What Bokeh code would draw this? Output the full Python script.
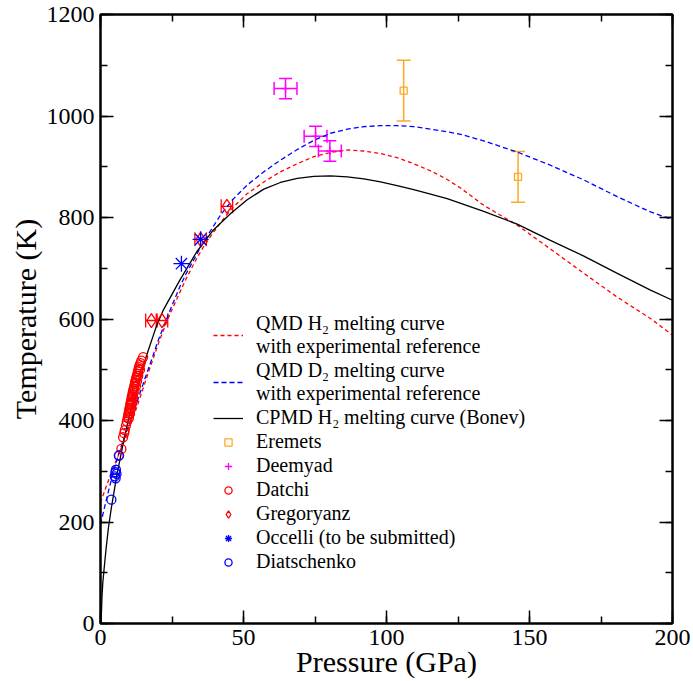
from bokeh.plotting import figure
from bokeh.models import (LinearAxis, SingleIntervalTicker, Whisker, TeeHead,
                          ColumnDataSource, Legend, LegendItem, Range1d, CustomJSTickFormatter)
from bokeh.embed import file_html
from bokeh.resources import INLINE

# ---------------- data ----------------
qmd_h2_p = [0, 2, 4, 6, 8, 10, 12, 14, 16, 18, 20, 22, 24, 27.7, 30, 33.6, 36, 39.4, 42, 45.5,
            51.3, 57.1, 62.9, 68.8, 74.6, 80.4, 86.3, 92.1, 97.9, 103.7, 109.5, 115.4, 121.2,
            125.9, 134, 145.7, 157.3, 169, 180.7, 192.3, 200]
qmd_h2_t = [238, 270, 300, 328, 356, 385, 415, 448, 482, 515, 548, 578, 606, 652, 680, 719, 742, 770, 790, 815,
            847, 870, 890, 906, 920, 928, 933, 931, 926, 918, 906, 892, 875,
            858, 824, 785, 738, 690, 643, 601, 568]

qmd_d2_p = [0, 2, 4, 6, 8, 10, 12, 14, 16, 18, 20, 24, 27.7, 30, 33.6, 36, 39.4, 42, 46,
            51.3, 57.1, 62.9, 68.8, 74.6, 80.4, 86.3, 92.1, 97.9, 103.7, 109.5, 115.4, 121.2,
            125.9, 134, 145.7, 157.3, 169, 180.7, 192.3, 200]
qmd_d2_t = [195, 243, 288, 328, 362, 393, 424, 457, 490, 522, 555, 613, 663, 690, 727, 752, 782, 805, 834,
            864, 890, 913, 934, 952, 966, 974, 979, 981, 981, 979, 974, 969,
            964, 951, 929, 903, 874, 841, 811, 796]

cpmd_p = [0.2, 0.5, 0.8, 1.3, 2.0, 2.8, 3.8, 5.6, 7.9, 10.2, 13.7, 16.1, 19.5, 22, 27.7, 33.6, 39.4,
          45.5, 51.3, 57.1, 62.9, 68.8, 74.6, 80.4, 86.3, 92.1, 97.9, 103.7, 109.5, 115.4, 121.2,
          134, 145.7, 157.3, 169, 180.7, 192.3, 200]
cpmd_t = [0, 50, 80, 110, 150, 190, 228, 289, 354, 413, 479, 528, 585, 618, 676, 732, 775,
          808, 835, 856, 869, 877, 881, 882, 880, 876, 870, 863, 855, 846, 837,
          812, 787, 755, 724, 690, 657, 637]

eremets_p = [106, 146]
eremets_t = [1050, 880]
eremets_err = [60, 50]

deemyad_p = [64.7, 75.2, 80.2]
deemyad_t = [1054, 960, 931]
deemyad_perr = [4, 4, 4]
deemyad_terr = [20, 20, 20]

datchi_p = [6.5, 7.3, 7.9, 8.3, 8.5, 8.9, 9.2, 9.5, 9.7, 9.8, 10.0, 10.1, 10.2, 10.4, 10.5, 10.6,
            10.8, 10.9, 11.0, 11.2, 11.3, 11.5, 11.6, 11.8, 12.0, 12.1, 12.3, 12.5, 12.7, 12.9,
            13.1, 13.3, 13.5, 13.7, 14.0, 14.3, 14.9,
            10.3, 10.7, 11.1, 11.4, 11.9, 12.4, 12.8, 13.2, 13.8, 9.9, 10.9]
datchi_t = [331, 344, 367, 375, 381, 390, 398, 405, 410, 414, 418, 422, 425, 430, 433, 437,
            441, 445, 448, 452, 456, 460, 463, 467, 472, 475, 480, 484, 488, 492,
            497, 501, 505, 509, 513, 518, 525,
            414, 424, 436, 446, 458, 468, 478, 488, 500, 404, 432]

gregoryanz_p = [17.8, 21.5, 35.0, 44.2]
gregoryanz_t = [597, 597, 757, 822]
gregoryanz_perr = [2, 2, 2, 2]

occelli_p = [28.3, 35.0]
occelli_t = [709, 757]

diatschenko_p = [3.8, 5.0, 5.2, 5.4, 5.6, 5.3, 6.4]
diatschenko_t = [244, 290, 298, 303, 295, 286, 331]

x_ticks_interval = 50
y_ticks_interval = 200

FONT = "Liberation Serif"

p = figure(width=690, height=681,
           x_range=Range1d(0, 200), y_range=Range1d(0, 1200),
           output_backend="svg", toolbar_location=None,
           min_border_left=100, min_border_right=18, min_border_top=14, min_border_bottom=58)
p.xgrid.visible = False
p.ygrid.visible = False
p.outline_line_color = "black"
p.outline_line_width = 2


def style_axis(ax, interval):
    ax.ticker = SingleIntervalTicker(interval=interval, num_minor_ticks=2)
    ax.axis_line_width = 2
    ax.axis_line_color = "black"
    ax.major_tick_in = 13
    ax.major_tick_out = 0
    ax.minor_tick_in = 7
    ax.minor_tick_out = 0
    ax.major_tick_line_width = 1.5
    ax.minor_tick_line_width = 1.5
    ax.major_tick_line_color = "black"
    ax.minor_tick_line_color = "black"
    ax.major_label_text_font = FONT
    ax.major_label_text_font_size = "24px"
    ax.major_label_text_color = "black"
    ax.axis_label_text_font = FONT
    ax.axis_label_text_font_style = "normal"
    ax.axis_label_text_font_size = "30px"
    ax.axis_label_text_color = "black"


style_axis(p.xaxis[0], x_ticks_interval)
style_axis(p.yaxis[0], y_ticks_interval)
p.xaxis[0].axis_label = "Pressure (GPa)"
p.yaxis[0].axis_label = "Temperature (K)"
p.xaxis[0].major_label_standoff = 6
p.yaxis[0].major_label_standoff = 6
p.xaxis[0].axis_label_standoff = -3
p.yaxis[0].axis_label_standoff = 2

top = LinearAxis()
right = LinearAxis()
style_axis(top, x_ticks_interval)
style_axis(right, y_ticks_interval)
for ax in (top, right):
    ax.formatter = CustomJSTickFormatter(code="return ''")
    ax.major_label_standoff = 0
p.add_layout(top, "above")
p.add_layout(right, "right")

# curves
r_h2 = p.line(qmd_h2_p, qmd_h2_t, line_color="red", line_width=1.3, line_dash="4 3")
r_d2 = p.line(qmd_d2_p, qmd_d2_t, line_color="blue", line_width=1.3, line_dash="5 3")
r_cp = p.line(cpmd_p, cpmd_t, line_color="black", line_width=1.3)

# error bars
ORANGE = "#ffa824"
src_e = ColumnDataSource(dict(p=eremets_p, t=eremets_t,
                              lo=[t - e for t, e in zip(eremets_t, eremets_err)],
                              hi=[t + e for t, e in zip(eremets_t, eremets_err)]))
p.add_layout(Whisker(source=src_e, base="p", lower="lo", upper="hi", dimension="height",
                     line_color=ORANGE, line_width=1.5,
                     lower_head=TeeHead(size=14, line_color=ORANGE, line_width=1.5),
                     upper_head=TeeHead(size=14, line_color=ORANGE, line_width=1.5)))

MAG = "#ff00ff"
src_d = ColumnDataSource(dict(p=deemyad_p, t=deemyad_t,
                              tlo=[t - e for t, e in zip(deemyad_t, deemyad_terr)],
                              thi=[t + e for t, e in zip(deemyad_t, deemyad_terr)],
                              plo=[q - e for q, e in zip(deemyad_p, deemyad_perr)],
                              phi=[q + e for q, e in zip(deemyad_p, deemyad_perr)]))
p.add_layout(Whisker(source=src_d, base="p", lower="tlo", upper="thi", dimension="height",
                     line_color=MAG, line_width=1.5,
                     lower_head=TeeHead(size=13, line_color=MAG, line_width=1.5),
                     upper_head=TeeHead(size=13, line_color=MAG, line_width=1.5)))
p.add_layout(Whisker(source=src_d, base="t", lower="plo", upper="phi", dimension="width",
                     line_color=MAG, line_width=1.5,
                     lower_head=TeeHead(size=13, line_color=MAG, line_width=1.5),
                     upper_head=TeeHead(size=13, line_color=MAG, line_width=1.5)))

src_g = ColumnDataSource(dict(p=gregoryanz_p, t=gregoryanz_t,
                              plo=[q - e for q, e in zip(gregoryanz_p, gregoryanz_perr)],
                              phi=[q + e for q, e in zip(gregoryanz_p, gregoryanz_perr)]))
p.add_layout(Whisker(source=src_g, base="t", lower="plo", upper="phi", dimension="width",
                     line_color="red", line_width=1.3,
                     lower_head=TeeHead(size=14, line_color="red", line_width=1.3),
                     upper_head=TeeHead(size=14, line_color="red", line_width=1.3)))

# markers
r_er = p.scatter(eremets_p, eremets_t, marker="square", size=7, fill_color=None,
                 line_color=ORANGE, line_width=1.3)
r_de = p.scatter(deemyad_p, deemyad_t, marker="cross", size=8, line_color=MAG, line_width=1.3)
r_da = p.scatter(datchi_p, datchi_t, marker="circle", size=9, fill_color=None,
                 line_color="red", line_width=1.3)
r_gr = p.scatter(gregoryanz_p, gregoryanz_t, marker="diamond", size=14,
                 fill_color=None, line_color="red", line_width=1.3)
r_oc = p.scatter(occelli_p, occelli_t, marker="asterisk", size=16, line_color="blue", line_width=1.3)
r_di = p.scatter(diatschenko_p, diatschenko_t, marker="circle", size=9, fill_color=None,
                 line_color="blue", line_width=1.3)

legend = Legend(items=[
    LegendItem(label="QMD H\u2082 melting curve\nwith experimental reference", renderers=[r_h2]),
    LegendItem(label="QMD D\u2082 melting curve\nwith experimental reference", renderers=[r_d2]),
    LegendItem(label="CPMD H\u2082 melting curve (Bonev)", renderers=[r_cp]),
    LegendItem(label="Eremets", renderers=[r_er]),
    LegendItem(label="Deemyad", renderers=[r_de]),
    LegendItem(label="Datchi", renderers=[r_da]),
    LegendItem(label="Gregoryanz", renderers=[r_gr]),
    LegendItem(label="Occelli (to be submitted)", renderers=[r_oc]),
    LegendItem(label="Diatschenko", renderers=[r_di]),
], location=(113, 50))
legend.label_text_font = FONT
legend.label_text_font_size = "20px"
legend.label_text_color = "black"
legend.label_text_line_height = 0.8
legend.label_standoff = 13
legend.glyph_width = 30
legend.glyph_height = 18
legend.label_height = 19
legend.spacing = 1
legend.padding = 0
legend.margin = 0
legend.border_line_color = None
legend.background_fill_alpha = 0
p.add_layout(legend)

open("out.html", "w").write(file_html(p, INLINE))
